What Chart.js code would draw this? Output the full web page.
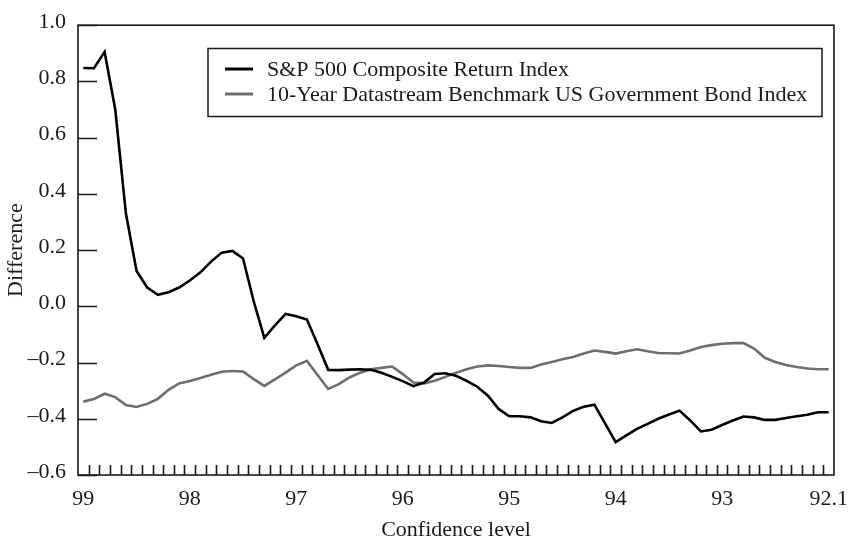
<!DOCTYPE html>
<html>
<head>
<meta charset="utf-8">
<script src="https://cdn.jsdelivr.net/npm/chart.js@4.4.1/dist/chart.umd.min.js"></script>
<style>
html, body { margin: 0; padding: 0; background: #fff; }
</style>
</head>
<body>
<canvas id="chart" width="859" height="541"></canvas>
<script>
// x axis labels, one every 10 points
const tickLabels = ['99', '98', '97', '96', '95', '94', '93', '92.1'];
const pointsPerLabel = 10;

const seriesNames = [
    'S&P 500 Composite Return Index',
    '10-Year Datastream Benchmark US Government Bond Index'
];

const spReturn = [0.848, 0.847, 0.905, 0.70, 0.33, 0.126, 0.067, 0.041, 0.05, 0.067,
    0.092, 0.121, 0.159, 0.191, 0.197, 0.17, 0.018, -0.112, -0.068, -0.027,
    -0.035, -0.047, -0.135, -0.226, -0.227, -0.225, -0.224, -0.226, -0.236, -0.251,
    -0.266, -0.284, -0.271, -0.241, -0.238, -0.247, -0.265, -0.286, -0.318, -0.365,
    -0.391, -0.391, -0.395, -0.409, -0.415, -0.395, -0.372, -0.357, -0.35, -0.416,
    -0.483, -0.459, -0.436, -0.418, -0.40, -0.385, -0.371, -0.406, -0.445, -0.439,
    -0.422, -0.406, -0.392, -0.395, -0.404, -0.404, -0.397, -0.391, -0.386, -0.377, -0.377];

const bondIndex = [-0.339, -0.33, -0.311, -0.323, -0.351, -0.358, -0.347, -0.329, -0.297, -0.274,
    -0.266, -0.255, -0.243, -0.233, -0.23, -0.232, -0.259, -0.283, -0.26, -0.236,
    -0.21, -0.194, -0.244, -0.294, -0.277, -0.253, -0.236, -0.224, -0.219, -0.214,
    -0.241, -0.271, -0.274, -0.265, -0.251, -0.236, -0.224, -0.214, -0.21, -0.212,
    -0.216, -0.219, -0.219, -0.207, -0.198, -0.188, -0.18, -0.168, -0.157, -0.162,
    -0.168, -0.16, -0.153, -0.16, -0.166, -0.167, -0.168, -0.157, -0.145, -0.138,
    -0.133, -0.131, -0.131, -0.15, -0.183, -0.198, -0.209, -0.216, -0.221, -0.224, -0.224];

const categories = spReturn.map((_, i) => i % pointsPerLabel === 0 ? tickLabels[i / pointsPerLabel] : '');

const FONT = '"Liberation Serif", "Times New Roman", serif';
const INK = '#1a1a1a';

// frame, inward tick marks and boxed legend
const frame = {
    id: 'frame',
    afterDraw(chart) {
        const {ctx, chartArea: a, scales: {x, y}} = chart;
        ctx.save();
        ctx.strokeStyle = INK;
        ctx.lineWidth = 1.6;
        ctx.strokeRect(a.left, a.top, a.right - a.left, a.bottom - a.top);

        ctx.beginPath();
        for (let i = 1; i < categories.length; i++) {
            const px = Math.round(x.getPixelForValue(i - 0.5)) + 0.5;
            ctx.moveTo(px, a.bottom);
            ctx.lineTo(px, a.bottom - 10);
        }
        y.ticks.forEach(t => {
            const py = Math.round(y.getPixelForValue(t.value)) + 0.5;
            ctx.moveTo(a.left, py);
            ctx.lineTo(a.left + 19, py);
        });
        ctx.stroke();

        ctx.lineWidth = 1.5;
        ctx.strokeRect(208, 48.5, 614, 68);
        chart.data.datasets.forEach((ds, k) => {
            const cy = 69 + k * 25;
            ctx.strokeStyle = ds.borderColor;
            ctx.lineWidth = 3;
            ctx.beginPath();
            ctx.moveTo(225, cy);
            ctx.lineTo(253, cy);
            ctx.stroke();
            ctx.fillStyle = INK;
            ctx.font = '22px ' + FONT;
            ctx.textBaseline = 'middle';
            ctx.fillText(ds.label, 267, cy + 1);
        });
        ctx.restore();
    }
};

new Chart(document.getElementById('chart'), {
    type: 'line',
    data: {
        labels: categories,
        datasets: [
            {label: seriesNames[0], data: spReturn, borderColor: '#000', borderWidth: 2.6},
            {label: seriesNames[1], data: bondIndex, borderColor: '#6e6e6e', borderWidth: 2.6}
        ]
    },
    options: {
        responsive: false,
        animation: false,
        devicePixelRatio: 1,
        layout: {padding: {top: 22, right: 16, left: 0, bottom: 0}},
        elements: {point: {radius: 0}, line: {tension: 0}},
        plugins: {legend: {display: false}, tooltip: {enabled: false}},
        scales: {
            x: {
                type: 'category',
                offset: true,
                grid: {display: false, drawTicks: false},
                border: {display: false},
                ticks: {
                    autoSkip: false, maxRotation: 0, padding: 11,
                    color: INK, font: {family: FONT, size: 22},
                    callback(v) { return this.getLabelForValue(v); }
                },
                title: {display: true, text: 'Confidence level', color: INK,
                    font: {family: FONT, size: 22, lineHeight: 1}, padding: {top: 0, bottom: 0}},
                afterFit(s) { s.height = 66; }
            },
            y: {
                min: -0.6, max: 1.0,
                grid: {display: false, drawTicks: false},
                border: {display: false},
                ticks: {
                    stepSize: 0.2, padding: 12, labelOffset: -3,
                    color: INK, font: {family: FONT, size: 22},
                    callback: v => v.toFixed(1).replace('-', '\u2013')
                },
                title: {display: true, text: 'Difference', color: INK,
                    font: {family: FONT, size: 22, lineHeight: 1}, padding: {top: 5, bottom: 0}},
                afterFit(s) { s.width = 78; }
            }
        }
    },
    plugins: [frame]
});
</script>
</body>
</html>
